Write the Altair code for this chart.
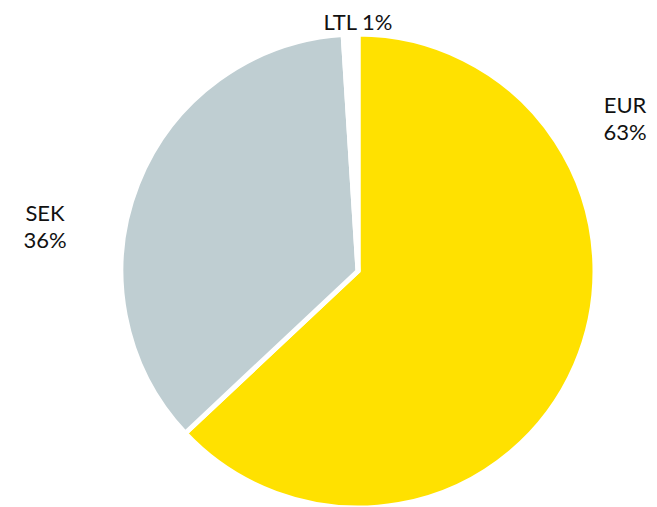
import altair as alt
import pandas as pd

currencies = ["EUR", "SEK", "LTL"]
shares = [63, 36, 1]
labels = [["EUR", "63%"], ["SEK", "36%"], ["LTL 1%"]]
colors = ["#FFE100", "#BFCED2", "#FFFFFF"]

df = pd.DataFrame({"currency": currencies, "share": shares, "rank": list(range(len(currencies)))})

cx, cy = 350, 263

pie = alt.Chart(df).mark_arc(outerRadius=237, stroke="white", strokeWidth=5).encode(
    theta=alt.Theta("share:Q", stack=True),
    order=alt.Order("rank:Q"),
    color=alt.Color("currency:N", scale=alt.Scale(domain=currencies, range=colors), legend=None),
    x=alt.value(cx),
    y=alt.value(cy),
)

font = "Lato"
def label(i, x, y):
    d = pd.DataFrame({"t": [labels[i]]})
    return alt.Chart(d).mark_text(
        font=font, fontSize=22, lineHeight=27, align="center", baseline="alphabetic", color="#111111"
    ).encode(text="t", x=alt.value(x), y=alt.value(y))

chart = alt.layer(
    pie,
    label(0, 617, 105),
    label(1, 37, 213),
    label(2, 350, 22),
).properties(width=641, height=491, padding=0).configure_view(stroke=None)

chart.save("out.html", embed_options={"renderer": "svg", "actions": False})
